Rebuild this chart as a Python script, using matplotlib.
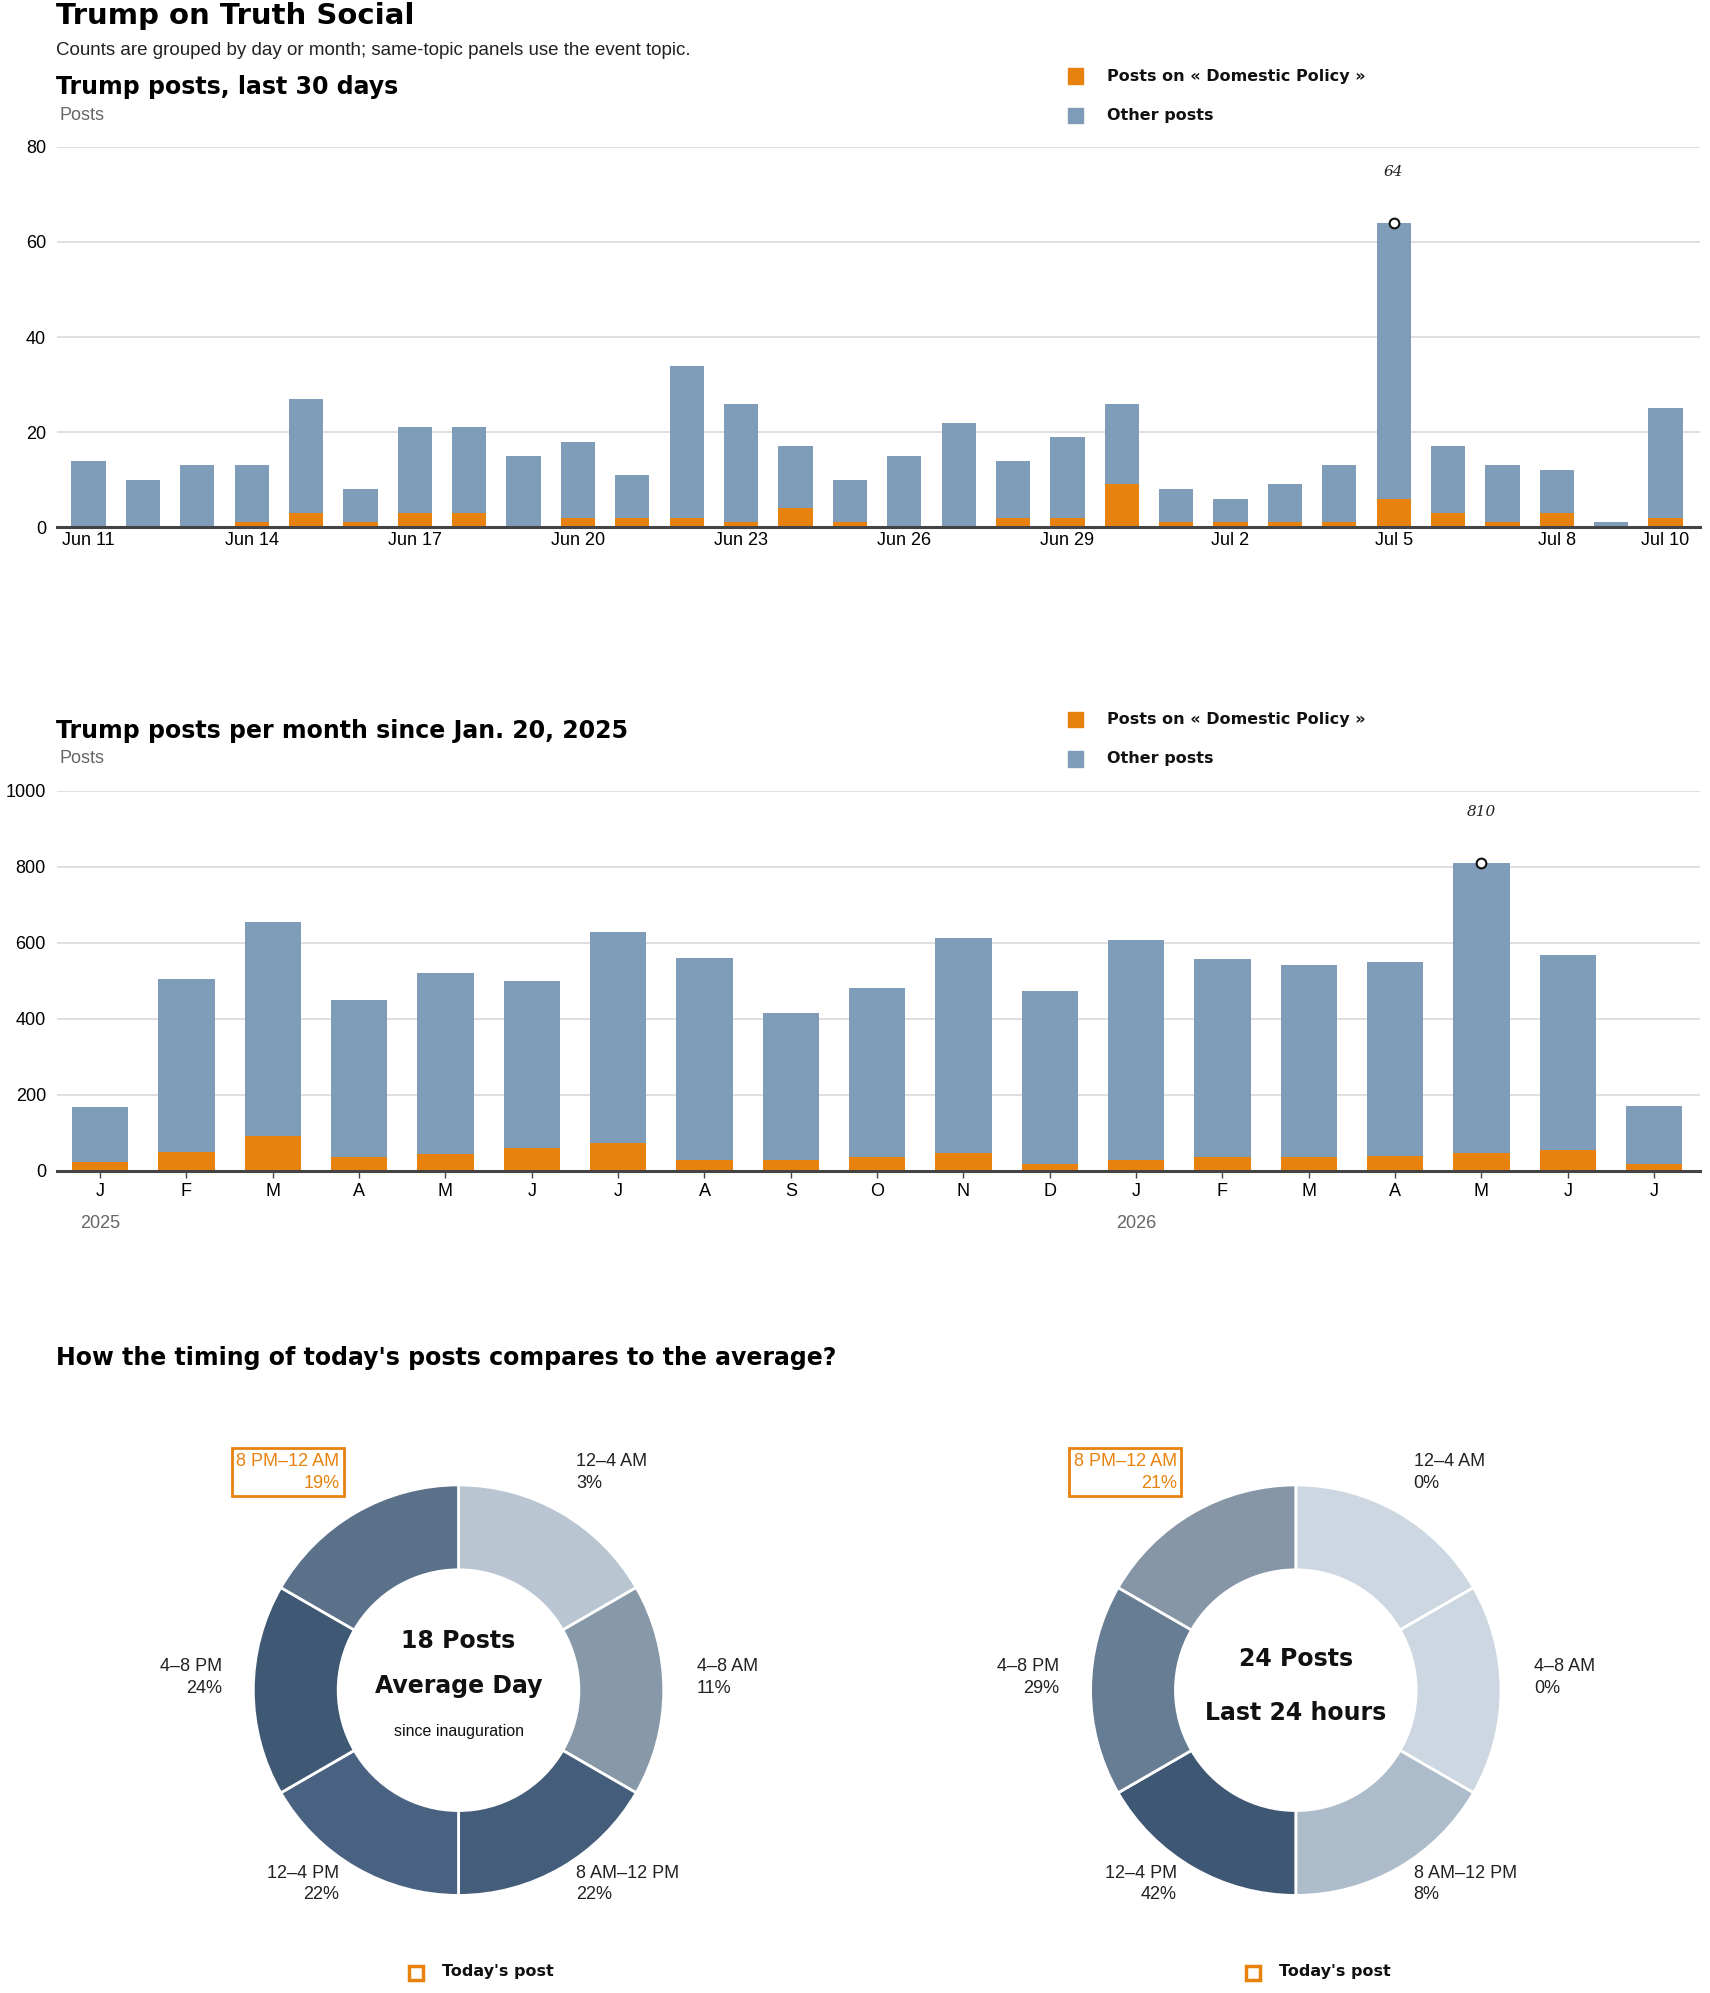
import matplotlib
matplotlib.use("Agg")
import matplotlib.pyplot as plt
from matplotlib.patches import Wedge, Rectangle

days = ["Jun 11","Jun 12","Jun 13","Jun 14","Jun 15","Jun 16","Jun 17","Jun 18","Jun 19","Jun 20",
        "Jun 21","Jun 22","Jun 23","Jun 24","Jun 25","Jun 26","Jun 27","Jun 28","Jun 29","Jun 30",
        "Jul 1","Jul 2","Jul 3","Jul 4","Jul 5","Jul 6","Jul 7","Jul 8","Jul 9","Jul 10"]
daily_total = [14,10,13,13,27,8,21,21,15,18,11,34,26,17,10,15,22,14,19,26,8,6,9,13,64,17,13,12,1,25]
daily_topic = [0,0,0,1,3,1,3,3,0,2,2,2,1,4,1,0,0,2,2,9,1,1,1,1,6,3,1,3,0,2]

months = ["J","F","M","A","M","J","J","A","S","O","N","D","J","F","M","A","M","J","J"]
monthly_total = [167,505,655,448,521,500,628,560,414,480,612,474,607,558,540,550,810,568,170]
monthly_topic = [22,48,92,36,44,60,74,28,28,36,46,18,28,36,36,40,46,54,18]

slots = ["12–4 AM","4–8 AM","8 AM–12 PM","12–4 PM","4–8 PM","8 PM–12 AM"]
avg_pct = [3,11,22,22,24,19]
today_pct = [0,0,8,42,29,21]
avg_colors = ["#b9c6d2","#8798a8","#445d7a","#4a6281","#3f5873","#5b7089"]
today_colors = ["#cdd7e1","#cdd7e1","#adbcca","#3e5774","#677d93","#8696a7"]

ORANGE = "#e8820e"
BLUE = "#7f9db9"
W, H = 1350.0, 1573.0
BODY = ["Liberation Sans", "DejaVu Sans"]
HEAD = ["DejaVu Sans"]

fig = plt.figure(figsize=(17.1, 19.93), dpi=100)

def fx(x): return x / W
def fy(y): return 1 - y / H

def txt(x, y, s, **kw):
    kw.setdefault("family", BODY)
    fig.text(fx(x), fy(y), s, **kw)

txt(44, 13, "Trump on Truth Social", fontsize=21, weight="heavy", family=HEAD, va="center")
txt(44, 40, "Counts are grouped by day or month; same-topic panels use the event topic.", fontsize=13.5, va="center", color="#222")

def legend(y0):
    for dy, c, lab in [(0, ORANGE, "Posts on « Domestic Policy »"), (31, BLUE, "Other posts")]:
        fig.patches.append(Rectangle((fx(843), fy(y0 + dy + 6)), fx(12), 12 / H, color=c, transform=fig.transFigure))
        txt(874, y0 + dy, lab, fontsize=11.5, weight="bold", family=HEAD, va="center", color="#111")

def style(ax, ymax, step):
    ax.set_ylim(0, ymax)
    ax.set_yticks(range(0, ymax + 1, step))
    ax.grid(axis="y", color="#d9d9d9", lw=1.2)
    ax.set_axisbelow(True)
    for s in ["left", "right", "top"]:
        ax.spines[s].set_visible(False)
    ax.spines["bottom"].set_color("#444")
    ax.spines["bottom"].set_linewidth(2.2)
    ax.tick_params(axis="y", length=0, labelsize=13, pad=8)
    ax.tick_params(axis="x", labelsize=13, length=0)
    for l in ax.get_yticklabels() + ax.get_xticklabels():
        l.set_family(BODY)

# Daily chart
txt(44, 69, "Trump posts, last 30 days", fontsize=17, weight="heavy", family=HEAD, va="center")
txt(47, 91, "Posts", fontsize=13, color="#666", va="center")
legend(60)
ax1 = fig.add_axes([fx(45), fy(416), fx(1342 - 45), 300 / H])
x = list(range(len(days)))
other = [t - o for t, o in zip(daily_total, daily_topic)]
ax1.bar(x, daily_topic, width=0.63, color=ORANGE)
ax1.bar(x, other, bottom=daily_topic, width=0.63, color=BLUE)
ax1.set_xlim(-0.58, len(days) - 1 + 0.63)
style(ax1, 80, 20)
tk = list(range(0, 28, 3)) + [29]
ax1.set_xticks(tk)
ax1.set_xticklabels([days[i] for i in tk], family=BODY)
im = daily_total.index(max(daily_total))
ax1.plot(im, daily_total[im], "o", mfc="white", mec="#111", ms=7, mew=1.5)
ax1.annotate(str(daily_total[im]), (im, daily_total[im]), xytext=(0, 34), textcoords="offset points",
             ha="center", fontsize=11, style="italic", family="DejaVu Serif", color="#222")

# Monthly chart
txt(44, 577, "Trump posts per month since Jan. 20, 2025", fontsize=17, weight="heavy", family=HEAD, va="center")
txt(47, 599, "Posts", fontsize=13, color="#666", va="center")
legend(568)
ax2 = fig.add_axes([fx(45), fy(924), fx(1342 - 45), 300 / H])
xm = list(range(len(months)))
otherm = [t - o for t, o in zip(monthly_total, monthly_topic)]
ax2.bar(xm, monthly_topic, width=0.65, color=ORANGE)
ax2.bar(xm, otherm, bottom=monthly_topic, width=0.65, color=BLUE)
ax2.set_xlim(-0.5, len(months) - 0.47)
style(ax2, 1000, 200)
ax2.set_xticks(xm)
ax2.set_xticklabels(months, family=BODY)
ax2.tick_params(axis="x", length=5, color="#444", width=1)
for xi, yr in [(0, "2025"), (12, "2026")]:
    ax2.text(xi, -0.14, yr, transform=ax2.get_xaxis_transform(), fontsize=13, color="#666", ha="center", va="center", family=BODY)
im = monthly_total.index(max(monthly_total))
ax2.plot(im, monthly_total[im], "o", mfc="white", mec="#111", ms=7, mew=1.5)
ax2.annotate(str(monthly_total[im]), (im, monthly_total[im]), xytext=(0, 34), textcoords="offset points",
             ha="center", fontsize=11, style="italic", family="DejaVu Serif", color="#222")

txt(44, 1072, "How the timing of today's posts compares to the average?", fontsize=17, weight="heavy", family=HEAD, va="center")

R = 162.0
def donut(cx, cy, pcts, colors, center_lines):
    half = 260.0
    ax = fig.add_axes([fx(cx - half), fy(cy + half), 2 * half / W, 2 * half / H])
    lim = half / R
    ax.set_xlim(-lim, lim); ax.set_ylim(-lim, lim)
    ax.axis("off")
    for i, (p, c) in enumerate(zip(pcts, colors)):
        t2 = 90 - 60 * i
        ax.add_patch(Wedge((0, 0), 1, t2 - 60, t2, width=1 - 95 / R, facecolor=c, edgecolor="white", lw=2))
    # labels: (dx, dy, align)
    pos = [(93, -172, "left"), (188, -10, "left"), (93, 153, "left"),
           (-94, 153, "right"), (-187, -10, "right"), (-94, -172, "right")]
    for i, (dx, dy, al) in enumerate(pos):
        s = f"{slots[i]}\n{pcts[i]}%"
        col = ORANGE if i == 5 else "#222"
        kw = dict(ha=al, va="center", fontsize=13, color=col, family=BODY, multialignment="right" if al == "right" else "left", linespacing=1.35)
        if i == 5:
            kw["bbox"] = dict(boxstyle="square,pad=0.25", fc="white", ec=ORANGE, lw=2)
        ax.text(dx / R, -dy / R, s, **kw)
    for dy, s, fs, w in center_lines:
        ax.text(0, -dy / R, s, ha="center", va="center", fontsize=fs, weight=w, family=HEAD if w != "normal" else BODY, color="#111")
    # legend
    fig.patches.append(Rectangle((fx(cx - 39), fy(cy + 229)), 11 / W, 11 / H, fill=False, ec=ORANGE, lw=2.5, transform=fig.transFigure))
    txt(cx - 13, cy + 222, "Today's post", fontsize=11.5, weight="bold", family=HEAD, va="center", color="#111")

donut(362, 1334, avg_pct, avg_colors, [(-39, "18 Posts", 17, "heavy"), (-3, "Average Day", 17, "heavy"), (33, "since inauguration", 11.5, "normal")])
donut(1023, 1334, today_pct, today_colors, [(-25, "24 Posts", 17, "heavy"), (18, "Last 24 hours", 17, "heavy")])

fig.savefig("out.png", dpi=100, facecolor="white")
